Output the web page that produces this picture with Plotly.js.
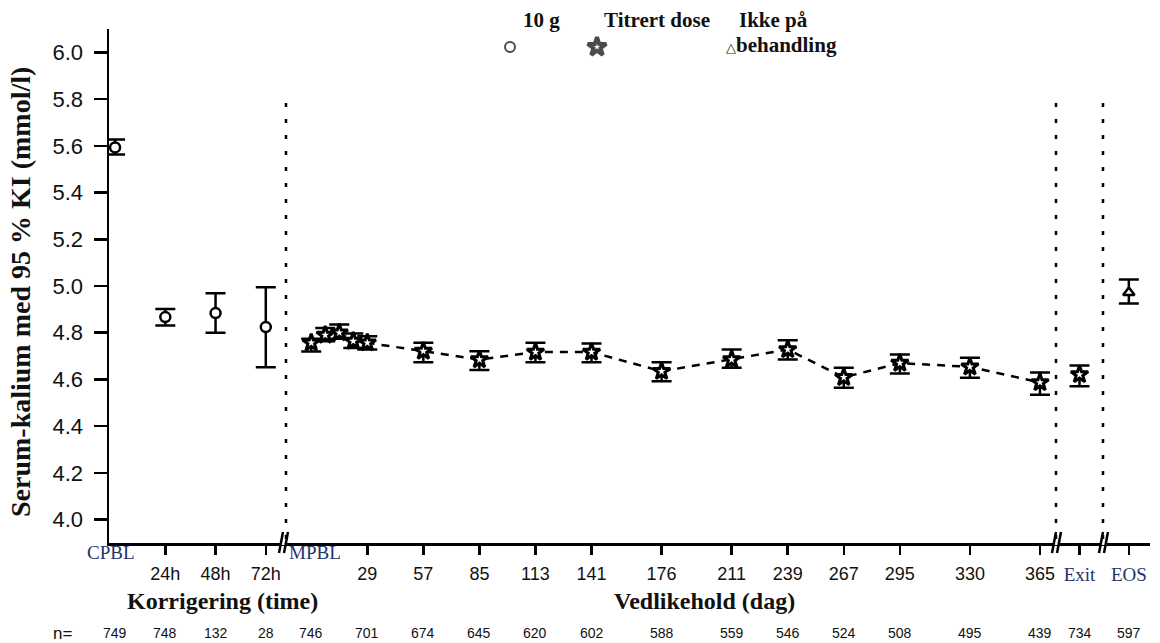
<!DOCTYPE html>
<html><head><meta charset="utf-8">
<script src="https://cdn.plot.ly/plotly-3.0.1.min.js"></script>
<style>html,body{margin:0;padding:0;background:#fff}#chart{width:1160px;height:643px}</style>
</head><body><div id="chart"></div>
<script>
// ---- Data ----
const corrHours = [0, 24, 48, 72];
const corrLabels = ['24h', '48h', '72h'];
const corrTickHours = [24, 48, 72];
const corrMean = [5.593, 4.867, 4.884, 4.824];
const corrLo   = [5.563, 4.831, 4.800, 4.652];
const corrHi   = [5.627, 4.902, 4.969, 4.995];
const corrN    = [749, 748, 132, 28];

const maintDays = [1, 8, 15, 22, 29, 57, 85, 113, 141, 176, 211, 239, 267, 295, 330, 365];
const maintMean = [4.757, 4.790, 4.800, 4.764, 4.757, 4.721, 4.685, 4.717, 4.717, 4.635, 4.685, 4.728, 4.609, 4.670, 4.654, 4.587];
const maintLo   = [4.720, 4.764, 4.774, 4.735, 4.728, 4.674, 4.640, 4.674, 4.674, 4.592, 4.650, 4.685, 4.564, 4.625, 4.607, 4.535];
const maintHi   = [4.774, 4.820, 4.835, 4.797, 4.785, 4.757, 4.721, 4.757, 4.754, 4.674, 4.728, 4.768, 4.650, 4.707, 4.693, 4.630];
const maintTickDays = [29, 57, 85, 113, 141, 176, 211, 239, 267, 295, 330, 365];
const maintNDays = [1, 29, 57, 85, 113, 141, 176, 211, 239, 267, 295, 330, 365];
const maintN     = [746, 701, 674, 645, 620, 602, 588, 559, 546, 524, 508, 495, 439];

const exitCat = ['Exit'];
const exitMean = [4.621], exitLo = [4.571], exitHi = [4.660], exitN = [734];
const eosCat = ['EOS'];
const eosMean = [4.972], eosLo = [4.925], eosHi = [5.028], eosN = [597];

const yTicks = [4.0, 4.2, 4.4, 4.6, 4.8, 5.0, 5.2, 5.4, 5.6, 5.8, 6.0];
const legendNames = ['10 g', 'Titrert dose', 'Ikke på', 'behandling'];

// ---- helpers (layout only) ----
const PL = 109, PW = 1041, PB = 543, PH = 514;
const px = x => (x - PL) / PW;
const py = y => (PB - y) / PH;
const up = (hi, m) => hi.map((v, i) => +(v - m[i]).toFixed(4));
const dn = (lo, m) => m.map((v, i) => +(v - lo[i]).toFixed(4));

const ebar = (hi, lo, m) => ({type: 'data', symmetric: false, array: up(hi, m), arrayminus: dn(lo, m),
  color: '#000', thickness: 2.5, width: 10});
const mk = sym => ({symbol: sym, color: '#fff', size: sym === 'star' ? 13 : 10,
  line: {color: '#000', width: sym === 'star' ? 3 : 2.5}});

const traces = [
  {x: corrHours, y: corrMean, xaxis: 'x', yaxis: 'y', mode: 'markers', marker: mk('circle'),
   error_y: ebar(corrHi, corrLo, corrMean), cliponaxis: false, showlegend: false},
  {x: maintDays, y: maintMean, xaxis: 'x2', yaxis: 'y', mode: 'lines+markers', marker: mk('star'),
   line: {color: '#000', width: 2.5, dash: '8px,7px'},
   error_y: ebar(maintHi, maintLo, maintMean), cliponaxis: false, showlegend: false},
  {x: exitCat, y: exitMean, xaxis: 'x3', yaxis: 'y', mode: 'markers', marker: mk('star'),
   error_y: ebar(exitHi, exitLo, exitMean), cliponaxis: false, showlegend: false},
  {x: eosCat, y: eosMean, xaxis: 'x4', yaxis: 'y', mode: 'markers', marker: mk('triangle-up'),
   error_y: ebar(eosHi, eosLo, eosMean), cliponaxis: false, showlegend: false},
  // legend symbols
  {x: [px(510), px(597)], y: [py(47), py(47)], xaxis: 'x5', yaxis: 'y2', mode: 'markers',
   marker: {symbol: ['circle', 'star'], color: ['#fff', '#fff'], size: [10, 14], line: {color: '#000', width: [2, 4]}},
   cliponaxis: false, showlegend: false, hoverinfo: 'skip'}
];

const tickFont = {family: 'Liberation Sans, Arial, sans-serif', size: 18, color: '#111'};
const serifLab = {family: 'Liberation Serif, Times New Roman, serif', size: 19, color: '#25336a'};
const baseX = {showline: true, linewidth: 2.5, linecolor: '#000', ticks: 'outside', ticklen: 9, tickwidth: 2.5,
  tickcolor: '#000', showgrid: false, zeroline: false, anchor: 'y', ticklabelstandoff: 4, tickfont: tickFont, fixedrange: true};

const annotations = [];
// CPBL / MPBL labels
annotations.push({xref: 'x', yref: 'paper', x: 0, y: py(552), text: 'CPBL', showarrow: false, xshift: -4,
  font: serifLab, xanchor: 'center', yanchor: 'middle'});
annotations.push({xref: 'x2', yref: 'paper', x: 1, y: py(552), text: 'MPBL', showarrow: false, xshift: 4,
  font: serifLab, xanchor: 'center', yanchor: 'middle'});
// phase titles
const boldSerif = {family: 'Liberation Serif, Times New Roman, serif', size: 24, color: '#111'};
annotations.push({xref: 'paper', yref: 'paper', x: px(222), y: py(601), text: '<b>Korrigering (time)</b>',
  showarrow: false, font: boldSerif, xanchor: 'center', yanchor: 'middle'});
annotations.push({xref: 'paper', yref: 'paper', x: px(704), y: py(601), text: '<b>Vedlikehold (dag)</b>',
  showarrow: false, font: boldSerif, xanchor: 'center', yanchor: 'middle'});
// y title
annotations.push({xref: 'paper', yref: 'paper', x: px(20), y: py(292), textangle: -90,
  text: '<b>Serum-kalium med 95 % KI (mmol/l)</b>', showarrow: false,
  font: {family: 'Liberation Serif, Times New Roman, serif', size: 28, color: '#111'}, xanchor: 'center', yanchor: 'middle'});
// n row
const nFont = {family: 'Liberation Sans, Arial, sans-serif', size: 14, color: '#111'};
const nY = py(633);
annotations.push({xref: 'paper', yref: 'paper', x: px(62), y: nY, text: 'n=', showarrow: false,
  font: {family: 'Liberation Sans, Arial, sans-serif', size: 17, color: '#111'}, xanchor: 'center', yanchor: 'middle'});
corrHours.forEach((h, i) => annotations.push({xref: 'x', yref: 'paper', x: h, y: nY, text: String(corrN[i]),
  showarrow: false, font: nFont, xanchor: 'center', yanchor: 'middle'}));
maintNDays.forEach((d, i) => annotations.push({xref: 'x2', yref: 'paper', x: d, y: nY, text: String(maintN[i]),
  showarrow: false, font: nFont, xanchor: 'center', yanchor: 'middle'}));
annotations.push({xref: 'x3', yref: 'paper', x: exitCat[0], y: nY, text: String(exitN[0]), showarrow: false, font: nFont, xanchor: 'center', yanchor: 'middle'});
annotations.push({xref: 'x4', yref: 'paper', x: eosCat[0], y: nY, text: String(eosN[0]), showarrow: false, font: nFont, xanchor: 'center', yanchor: 'middle'});
// legend texts
const legFont = {family: 'Liberation Serif, Times New Roman, serif', size: 21, color: '#111'};
annotations.push({xref: 'paper', yref: 'paper', x: px(541), y: py(20), text: '<b>' + legendNames[0] + '</b>', showarrow: false, font: legFont, xanchor: 'center', yanchor: 'middle'});
annotations.push({xref: 'paper', yref: 'paper', x: px(657), y: py(20), text: '<b>' + legendNames[1] + '</b>', showarrow: false, font: legFont, xanchor: 'center', yanchor: 'middle'});
annotations.push({xref: 'paper', yref: 'paper', x: px(737), y: py(20), text: '<b>' + legendNames[2] + '</b>', showarrow: false, font: legFont, xanchor: 'left', yanchor: 'middle'});
annotations.push({xref: 'paper', yref: 'paper', x: px(724), y: py(45), text: '<span style="font-size:13px">△</span><b>' + legendNames[3] + '</b>', showarrow: false, font: legFont, xanchor: 'left', yanchor: 'middle'});

// shapes: dotted separators and axis breaks
const shapes = [];
[286, 1056, 1103].forEach(xx => shapes.push({type: 'line', xref: 'paper', yref: 'paper', x0: px(xx), x1: px(xx),
  y0: py(103), y1: py(541), line: {color: '#000', width: 2.5, dash: '4px,12px'}, layer: 'above'}));
[284, 1057, 1104].forEach(bx => {
  shapes.push({type: 'line', xref: 'paper', yref: 'paper', x0: px(bx - 3), x1: px(bx + 3), y0: py(543), y1: py(543),
    line: {color: '#fff', width: 4}, layer: 'above'});
  shapes.push({type: 'line', xref: 'paper', yref: 'paper', x0: px(bx - 5), x1: px(bx - 1), y0: py(553), y1: py(532),
    line: {color: '#000', width: 2.5}, layer: 'above'});
  shapes.push({type: 'line', xref: 'paper', yref: 'paper', x0: px(bx), x1: px(bx + 4), y0: py(553), y1: py(532),
    line: {color: '#000', width: 2.5}, layer: 'above'});
});

const layout = {
  width: 1160, height: 643,
  margin: {l: PL, r: 1160 - PL - PW, t: PB - PH, b: 643 - PB},
  paper_bgcolor: '#fff', plot_bgcolor: 'rgba(0,0,0,0)',
  showlegend: false,
  xaxis: Object.assign({}, baseX, {domain: [0, px(284)], range: [-2.9, 80.7], tickmode: 'array',
    tickvals: corrTickHours, ticktext: corrLabels}),
  xaxis2: Object.assign({}, baseX, {domain: [px(284), px(1056)], range: [-12.6, 373.0], tickmode: 'array',
    tickvals: maintTickDays, ticktext: maintTickDays.map(String)}),
  xaxis3: Object.assign({}, baseX, {domain: [px(1056), px(1103)], type: 'category', range: [-1, 1],
    tickfont: serifLab}),
  xaxis4: Object.assign({}, baseX, {domain: [px(1103), 1], type: 'category', range: [-1.1, 0.9],
    tickfont: serifLab}),
  xaxis5: {domain: [0, 1], range: [0, 1], visible: false, anchor: 'y2', fixedrange: true},
  yaxis: {range: [3.90, 6.10], tickmode: 'array', tickvals: yTicks, ticktext: yTicks.map(v => v.toFixed(1)),
    showline: true, linewidth: 2.5, linecolor: '#000', ticks: 'outside', ticklen: 13, tickwidth: 2.5, tickcolor: '#000',
    showgrid: false, zeroline: false, anchor: 'x', ticklabelstandoff: 6,
    tickfont: {family: 'Liberation Sans, Arial, sans-serif', size: 22, color: '#111'}, fixedrange: true},
  yaxis2: {domain: [0, 1], range: [0, 1], visible: false, anchor: 'x5', fixedrange: true},
  annotations: annotations,
  shapes: shapes
};

Plotly.newPlot('chart', traces, layout, {displayModeBar: false, staticPlot: true});
</script></body></html>
